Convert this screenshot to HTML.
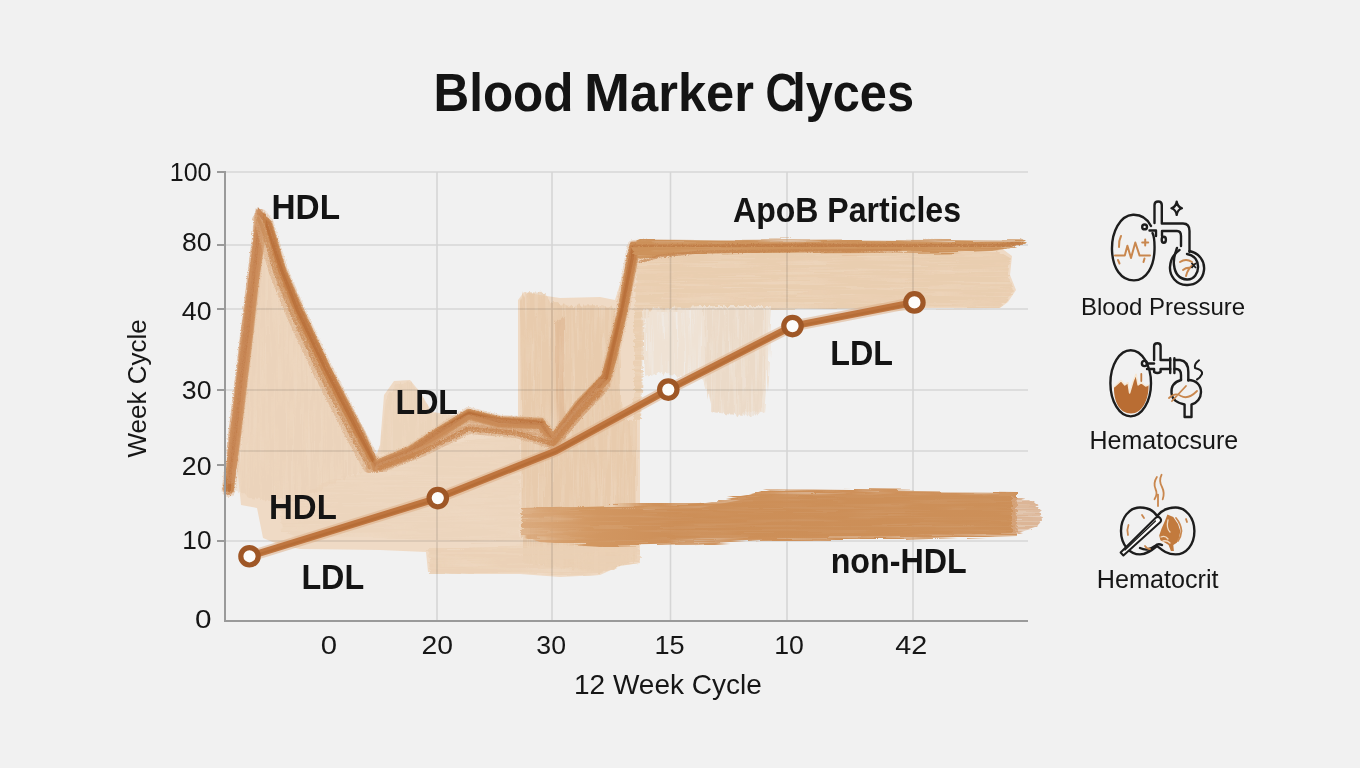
<!DOCTYPE html>
<html><head><meta charset="utf-8">
<style>
html,body{margin:0;padding:0;width:1360px;height:768px;overflow:hidden;background:#f1f1f1;}
svg{display:block;}
text{font-family:"Liberation Sans",sans-serif;}
</style></head>
<body>
<svg width="1360" height="768" viewBox="0 0 1360 768">
<defs>
  <filter id="vstreak" x="-3%" y="-3%" width="106%" height="106%">
    <feTurbulence type="fractalNoise" baseFrequency="0.35 0.015" numOctaves="2" seed="4" result="n"/>
    <feColorMatrix in="n" type="matrix" values="0 0 0 0 0  0 0 0 0 0  0 0 0 0 0  0 0 0 -1.6 1.75" result="a"/>
    <feComposite in="SourceGraphic" in2="a" operator="in" result="t"/>
    <feDisplacementMap in="t" in2="n" scale="7" xChannelSelector="R" yChannelSelector="G"/>
  </filter>
  <filter id="hstreak" x="-3%" y="-10%" width="106%" height="120%">
    <feTurbulence type="fractalNoise" baseFrequency="0.012 0.4" numOctaves="2" seed="7" result="n"/>
    <feColorMatrix in="n" type="matrix" values="0 0 0 0 0  0 0 0 0 0  0 0 0 0 0  0 0 0 -1.6 1.75" result="a"/>
    <feComposite in="SourceGraphic" in2="a" operator="in" result="t"/>
    <feDisplacementMap in="t" in2="n" scale="7" xChannelSelector="R" yChannelSelector="G"/>
  </filter>
  <filter id="chalk" x="-5%" y="-5%" width="110%" height="110%">
    <feTurbulence type="fractalNoise" baseFrequency="0.8" numOctaves="2" seed="9" result="n"/>
    <feColorMatrix in="n" type="matrix" values="0 0 0 0 0  0 0 0 0 0  0 0 0 0 0  0 0 0 -1.4 1.6" result="a"/>
    <feComposite in="SourceGraphic" in2="a" operator="in" result="t"/>
    <feDisplacementMap in="t" in2="n" scale="3" xChannelSelector="R" yChannelSelector="G"/>
  </filter>
  <linearGradient id="bandgrad" x1="520" y1="0" x2="1040" y2="0" gradientUnits="userSpaceOnUse">
    <stop offset="0" stop-color="#dbab7f"/><stop offset="0.12" stop-color="#d29862"/><stop offset="0.3" stop-color="#ce9059"/><stop offset="1" stop-color="#ce915b"/>
  </linearGradient>
  <linearGradient id="bandgrad2" x1="520" y1="0" x2="1040" y2="0" gradientUnits="userSpaceOnUse">
    <stop offset="0" stop-color="#dbab7f" stop-opacity="0.3"/><stop offset="0.15" stop-color="#d19661" stop-opacity="0.8"/><stop offset="0.3" stop-color="#cc8e57"/><stop offset="1" stop-color="#cc8f58"/>
  </linearGradient>
</defs>
<rect width="1360" height="768" fill="#f1f1f1"/>

<!-- title -->
<g font-size="53.5" font-weight="bold" fill="#141414">
  <text x="433.5" y="110.8" textLength="140" lengthAdjust="spacingAndGlyphs">Blood</text>
  <text x="584" y="110.8" textLength="46" lengthAdjust="spacingAndGlyphs">M</text>
  <text x="630" y="110.8" textLength="124" lengthAdjust="spacingAndGlyphs">arker</text>
  <text x="765.5" y="110.8" textLength="32" lengthAdjust="spacingAndGlyphs">C</text>
  <text x="792.2" y="110.8" textLength="121.8" lengthAdjust="spacingAndGlyphs">lyces</text>
</g>



<!-- FILLS -->
<g id="fills">
<!-- FILLS_START -->
<!-- base light wash -->
<path fill="#efdac5" d="M241 505 L237.5 470 L235 434 L241.5 380 L247.5 330 L253.5 280 L260 212 L276 258 L295 310 L322 368 L356 434 L374 462 L380 445 L384 395 L394 381 L410 380 L420 392 L432 412 L469 417 L500 424 L518 424 L518 300 L524 292 L540 295 L560 298 L600 297 L615 300 L630 252 L636 246 L1000 247 L1012 256 L1010 275 L1016 290 L1008 302 L1000 308 L780 308 L700 308 L660 310 L642 316 L640 420 L640 563 L620 566 L600 575 L560 577 L520 574 L470 574 L428 572 L426 552 L380 550 L300 549 L280 545 L263 538 L257 508 L241 505 Z"/>
<!-- HDL triangle darker wash -->
<path fill="#ead0b5" opacity="0.6" filter="url(#vstreak)" d="M236 490 L242 420 L252 330 L259 232 L266 240 L290 310 L320 372 L350 432 L368 470 L340 480 L300 500 L270 500 L250 498 Z"/>
<!-- lower band of wash -->
<path fill="#ead0b5" opacity="0.45" filter="url(#hstreak)" d="M280 505 L330 480 L372 470 L430 450 L470 440 L520 432 L520 540 L470 542 L428 540 L380 538 L300 538 L282 532 Z"/>
<!-- LDL bump wash -->
<path fill="#e9cfb3" opacity="0.5" filter="url(#vstreak)" d="M380 455 L386 398 L396 384 L410 382 L420 394 L432 414 L470 418 L515 426 L515 440 L470 430 L420 446 Z"/>
<!-- middle block -->
<path fill="#e6c7a6" opacity="0.75" filter="url(#vstreak)" d="M520 304 L524 292 L545 293 L550 302 L570 306 L600 305 L614 308 L618 320 L622 420 L636 420 L637 560 L620 566 L600 572 L570 568 L540 566 L522 562 Z"/>
<path fill="#dcb08a" opacity="0.5" filter="url(#vstreak)" d="M555 322 L563 318 L566 440 L557 442 Z"/>
<!-- apoB fill -->
<path fill="#e9ccad" opacity="0.85" filter="url(#hstreak)" d="M638 252 L1000 252 L1010 258 L1008 275 L1014 290 L1006 302 L998 308 L780 309 L700 309 L660 312 L645 318 L641 420 L634 420 L634 300 Z"/>
<!-- faint region below apoB -->
<path fill="#efe2d4" filter="url(#vstreak)" d="M642 310 L700 306 L772 306 L770 340 L768 380 L765 414 L752 410 L740 415 L712 412 L704 380 L680 376 L660 372 L646 376 L644 330 Z"/>
<path fill="#ead6c1" opacity="0.6" filter="url(#vstreak)" d="M704 308 L766 308 L765 380 L760 414 L740 416 L712 412 L706 380 Z"/>
<!-- lower part under band (lighter) -->
<path fill="#ebd1b6" opacity="0.9" filter="url(#hstreak)" d="M428 548 L640 545 L640 563 L620 566 L600 574 L560 576 L520 574 L470 574 L430 572 Z"/>
<!-- gridlines (multiply so they show through paint) -->
<g stroke="#e3e3e3" stroke-width="1.6" fill="none" style="mix-blend-mode:multiply">
  <path d="M225 172H1028M225 245H1028M225 309H1028M225 390H1028M225 451H1028M225 541H1028"/>
  <path d="M437 172V621M552 172V621M670.5 172V621M787 172V621M913 172V621"/>
</g>
<!-- non-HDL band -->
<path fill="url(#bandgrad)" filter="url(#hstreak)" d="M522 508 L640 504 L700 503 L745 496 L770 489 L1017 492 L1017 536 L900 540 L760 540 L700 544 L600 546 L540 542 L522 536 Z"/>
<path fill="url(#bandgrad2)" opacity="0.85" d="M530 512 L700 508 L770 494 L1015 496 L1015 533 L770 537 L600 541 L530 536 Z"/>
<path fill="#d7a780" opacity="0.8" filter="url(#hstreak)" d="M1012 496 L1030 500 L1040 508 L1042 520 L1036 528 L1020 533 L1012 533 Z"/>
<!-- FILLS_END -->
</g>



<!-- LINES -->
<g id="lines">
<!-- LINES_START -->
<g fill="none" stroke-linejoin="miter" stroke-miterlimit="3" stroke-linecap="round">
<path stroke="#dfb48d" stroke-width="14" stroke-linejoin="round" opacity="0.45" filter="url(#chalk)" d="M228.5 490.0 L231.0 470.0 L235.0 434.0 L241.5 380.0 L247.5 330.0 L253.5 280.0 L258.5 240.0 L261.0 216.0 L267.0 224.0 L281.0 270.0 L298.0 310.0 L325.5 368.0 L359.0 434.0 L375.5 466.0 L410.0 452.0 L440.0 432.0 L469.0 414.0 L500.0 422.0 L541.0 424.0 L553.0 440.0 L580.0 406.0 L606.0 378.0 L612.0 356.0 L623.0 308.0 L632.0 257.0 L634.0 247.0 L650.0 246.0"/>
<path stroke="#cb8a55" stroke-width="10" stroke-linejoin="round" opacity="0.9" filter="url(#chalk)" d="M228.5 490.0 L231.0 470.0 L235.0 434.0 L241.5 380.0 L247.5 330.0 L253.5 280.0 L258.5 240.0 L261.0 217.0 L267.0 224.0 L281.0 270.0 L298.0 310.0 L325.5 368.0 L359.0 434.0 L375.5 466.0 L410.0 452.0 L440.0 432.0 L469.0 414.0 L500.0 422.0 L541.0 424.0 L553.0 440.0 L580.0 406.0 L606.0 378.0 L612.0 356.0 L623.0 308.0 L632.0 257.0 L634.0 247.0 L650.0 246.0"/>
<path stroke="#bd763f" stroke-width="3.5" opacity="0.85" d="M225.9 489.8 L229.2 469.7 L232.5 433.9 L238.5 379.7 L245.2 330.2 L250.4 279.4 L255.4 240.2 L259.1 211.1 L270.1 223.9 L283.6 269.3 L299.7 308.2 L327.8 366.2 L360.7 432.5 L375.6 463.6 L408.7 450.3 L438.7 430.1 L468.6 411.8 L500.3 419.2 L542.6 422.4 L552.5 438.1 L577.8 403.9 L603.6 376.0 L610.0 355.3 L621.1 307.3 L630.3 257.1 L631.9 244.4 L650.5 243.5"/>
<path stroke="#c47f48" stroke-width="3.5" opacity="0.85" d="M231.7 490.1 L232.8 470.5 L237.9 433.9 L243.3 380.0 L250.7 330.7 L255.4 279.9 L260.3 239.6 L263.7 213.7 L264.7 224.7 L278.2 271.2 L295.1 311.3 L322.6 369.0 L356.3 434.8 L375.4 468.8 L410.9 454.8 L440.9 433.9 L470.0 416.7 L499.0 425.3 L539.7 426.0 L554.5 442.0 L581.6 406.9 L607.4 379.5 L614.0 356.8 L625.2 308.4 L635.2 257.4 L635.4 249.7 L649.6 247.9"/>
<path stroke="#b86f39" stroke-width="3" opacity="0.9" d="M229.2 490.5 L230.6 469.5 L235.4 434.7 L241.0 380.7 L248.1 330.2 L253.4 279.4 L257.8 240.7 L260.6 213.3 L266.6 224.5 L281.2 269.7 L297.5 310.4 L324.8 367.6 L359.1 434.6 L375.7 465.6 L410.7 451.5 L439.2 431.6 L468.9 413.3 L499.5 421.8 L541.1 423.4 L552.8 440.6 L580.8 406.3 L606.3 378.1 L611.4 355.3 L622.2 308.7 L632.3 257.7 L633.2 247.2 L650.0 246.4"/>
<path stroke="#c98a54" stroke-width="2.5" opacity="0.7" d="M232.7 491.4 L234.8 470.6 L239.8 435.2 L246.3 380.9 L252.4 331.2 L257.7 280.8 L263.6 241.1 L264.8 215.6 L263.3 225.6 L277.0 271.3 L294.0 312.0 L320.8 370.2 L355.8 436.7 L374.4 470.1 L412.5 456.1 L442.3 436.3 L469.1 418.8 L498.6 426.6 L539.5 427.8 L555.2 444.1 L583.6 409.6 L609.4 379.6 L616.1 357.3 L626.9 308.4 L637.1 258.1 L636.3 251.5 L650.0 250.8"/>
<path stroke="#c98a54" stroke-width="2.2" opacity="0.6" d="M223.6 489.3 L227.0 470.1 L231.1 433.3 L237.2 379.2 L242.4 329.5 L249.6 280.0 L254.4 240.2 L256.7 210.4 L271.2 222.2 L284.8 268.3 L302.3 308.1 L329.2 366.6 L363.8 431.9 L376.3 461.0 L408.5 447.3 L437.9 428.3 L468.0 410.0 L499.8 417.0 L542.4 419.0 L551.6 435.5 L576.0 402.4 L602.4 375.5 L607.8 355.2 L619.1 307.8 L627.9 255.7 L631.6 242.6 L648.9 241.5"/>
<path stroke="#d3a075" stroke-width="10" opacity="0.55" filter="url(#chalk)" d="M380.0 468.0 L422.0 452.0 L469.0 429.0 L516.0 433.0 L553.0 444.0 L580.0 412.0 L600.0 392.0"/>
<path stroke="#cf9463" stroke-width="13" opacity="0.55" stroke-linejoin="round" filter="url(#chalk)" d="M372.0 468.0 L410.0 454.0 L440.0 436.0 L469.0 421.0 L500.0 426.0 L541.0 429.0 L553.0 443.0 L580.0 410.0 L604.0 384.0"/>
<path stroke="#c7844e" stroke-width="5" opacity="0.8" filter="url(#chalk)" d="M380.0 468.0 L422.0 452.0 L469.0 429.0 L516.0 433.0 L553.0 444.0 L580.0 412.0 L600.0 392.0"/>
<path stroke="#d09567" stroke-width="12" opacity="0.6" stroke-linejoin="round" filter="url(#chalk)" d="M229.5 477.9 L231.5 461.9 L234.5 433.9 L241.0 379.9 L247.0 329.9 L253.0 279.9 L258.0 239.9 L260.5 215.0"/>
<path stroke="#d9aa80" stroke-width="9" opacity="0.6" filter="url(#chalk)" d="M256.7 219.1 L260.3 226.1 L273.4 272.2 L289.6 312.8 L316.7 371.1 L350.8 437.3 L367.9 468.4"/>
<path stroke="#c98b57" stroke-width="3.5" opacity="0.75" filter="url(#chalk)" d="M258.1 218.5 L261.8 225.7 L274.8 271.8 L291.0 312.2 L318.1 370.4 L352.1 436.6 L369.2 467.6"/>
<path fill="#cd925b" filter="url(#hstreak)" d="M630 244 L640 239.5 L700 240 L800 239.5 L950 240 L1000 240.5 L1021 239.5 L1025 243 L1012 248 L990 251 L950 252.5 L800 253.5 L700 254.5 L660 256 L642 260 L636 256 Z"/>
<path fill="#cd925b" opacity="0.8" d="M636 243 L700 242 L800 241.5 L950 242 L1000 242.5 L1020 241.5 L1022 243.5 L1000 248 L950 250.5 L800 251.5 L700 252.5 L640 255 Z"/>
<path stroke="#bd7843" stroke-width="4" opacity="0.75" filter="url(#chalk)" d="M634 246.5 L700 246.5 L800 245.5 L950 246 L1000 245.5 L1021 243"/>
<path stroke="#c5844f" stroke-width="3" opacity="0.7" filter="url(#chalk)" d="M640 262 L660 256 L700 252 L800 250.5 L900 250"/>
</g>
<path fill="none" stroke="#dcaa80" stroke-width="11" opacity="0.5" stroke-linejoin="round" stroke-linecap="round" d="M249.5 556.3 L437.8 498.1 L556.0 451.0 L668.3 389.6 L792.5 326.1 L914.4 302.4"/>
<path fill="none" stroke="#bf7640" stroke-width="7" stroke-linejoin="round" stroke-linecap="round" d="M249.5 556.3 L437.8 498.1 L556.0 451.0 L668.3 389.6 L792.5 326.1 L914.4 302.4"/>
<path fill="none" stroke="#b06830" stroke-width="2.5" opacity="0.6" stroke-linejoin="round" stroke-linecap="round" d="M249.7 557.1 L438.1 498.9 L556.3 451.7 L668.7 390.3 L792.8 326.9 L914.6 303.2"/>
<g fill="#fdfcfa" stroke="#9f5726" stroke-width="5.2">
  <circle cx="249.5" cy="556.3" r="8.7"/>
  <circle cx="437.8" cy="498.1" r="8.7"/>
  <circle cx="668.3" cy="389.6" r="8.7"/>
  <circle cx="792.5" cy="326.1" r="8.7"/>
  <circle cx="914.4" cy="302.4" r="8.7"/>
</g>
<!-- LINES_END -->
</g>

<!-- axes -->
<g stroke="#9a9a9a" stroke-width="2" fill="none">
  <path d="M225 171V621H1028"/>
  <path d="M217 172H225M217 245H225M217 309H225M217 390H225M217 465H225M217 541H225"/>
</g>

<!-- axis labels -->
<g font-size="25" fill="#161616" text-anchor="end">
  <text x="211.5" y="181">100</text>
  <text x="211.5" y="250.7" textLength="29.5" lengthAdjust="spacingAndGlyphs">80</text>
  <text x="211.5" y="320" textLength="29.7" lengthAdjust="spacingAndGlyphs">40</text>
  <text x="211.5" y="398.6" textLength="29.7" lengthAdjust="spacingAndGlyphs">30</text>
  <text x="211.5" y="474.7" textLength="29.7" lengthAdjust="spacingAndGlyphs">20</text>
  <text x="211.5" y="549" textLength="29.2" lengthAdjust="spacingAndGlyphs">10</text>
  <text x="211.5" y="628" textLength="16.5" lengthAdjust="spacingAndGlyphs">0</text>
</g>
<g font-size="25" fill="#161616" text-anchor="middle">
  <text x="329" y="654" textLength="16.3" lengthAdjust="spacingAndGlyphs">0</text>
  <text x="437.3" y="654" textLength="31.5" lengthAdjust="spacingAndGlyphs">20</text>
  <text x="551.2" y="654" textLength="29.7" lengthAdjust="spacingAndGlyphs">30</text>
  <text x="669.5" y="654" textLength="30.2" lengthAdjust="spacingAndGlyphs">15</text>
  <text x="789" y="654" textLength="29.7" lengthAdjust="spacingAndGlyphs">10</text>
  <text x="911.2" y="654" textLength="32" lengthAdjust="spacingAndGlyphs">42</text>
</g>
<text x="574" y="693.7" font-size="28" fill="#161616">12 Week Cycle</text>
<text transform="translate(145.5,457.5) rotate(-90)" x="0" y="0" font-size="26" fill="#161616">Week Cycle</text>

<!-- series labels -->
<g font-size="35" font-weight="bold" fill="#141414">
  <text x="271.5" y="218.9" textLength="68.5" lengthAdjust="spacingAndGlyphs">HDL</text>
  <text x="733" y="222.4" textLength="228" lengthAdjust="spacingAndGlyphs">ApoB Particles</text>
  <text x="395.5" y="414.1" textLength="62.5" lengthAdjust="spacingAndGlyphs">LDL</text>
  <text x="830.3" y="364.7" textLength="62.7" lengthAdjust="spacingAndGlyphs">LDL</text>
  <text x="269" y="518.5" textLength="67.8" lengthAdjust="spacingAndGlyphs">HDL</text>
  <text x="301.4" y="589.3" textLength="62.8" lengthAdjust="spacingAndGlyphs">LDL</text>
  <text x="830.7" y="572.6" textLength="136" lengthAdjust="spacingAndGlyphs">non-HDL</text>
</g>
<!-- right legend labels -->
<g font-size="24" fill="#161616">
  <text x="1081" y="315.3">Blood Pressure</text>
  <text x="1089.5" y="448.5" font-size="25">Hematocsure</text>
  <text x="1096.8" y="588" font-size="25.2">Hematocrit</text>
</g>

<!-- ICONS -->
<g id="icons">
<!-- ICONS_START -->
<!-- icon 1: blood pressure -->
<g fill="none" stroke="#1d1d1d" stroke-width="2.4" stroke-linecap="round" stroke-linejoin="round">
  <path d="M1151 226 C1147 218 1141 214.5 1133 214.8 C1120 215.5 1111.5 232 1112 250 C1112.5 268 1121 280.5 1134 280.4 C1147 280 1154 266 1154.5 250 C1154.8 240 1154 236 1152.5 233"/>
  <path d="M1154.5 223 V205 Q1154.5 201.5 1158.2 201.5 Q1161.8 201.5 1161.8 205 V223.5 H1183 Q1189.5 223.5 1189.5 231 V252"/>
  <path d="M1149.5 230.5 H1156 V236 M1162 236 V231 H1177 Q1181 231 1181 236 V246"/>
  <circle cx="1144.6" cy="226.9" r="2.4"/>
  <ellipse cx="1163.8" cy="239.8" rx="2.1" ry="3"/>
  <path d="M1189.5 251 C1199 253 1205 261 1204 270 C1203 280 1195 285.5 1186.5 285 C1176 284.5 1169.5 276 1170 267 C1170.5 258 1175 253 1179.5 250"/>
  <path d="M1177 248 C1175 254 1173 258 1174 265 C1175 274 1180 279 1187 279.5 C1194 279.8 1198.5 273 1198 266 C1197.5 259 1193 255 1187 254"/>
  <path stroke-width="2.2" d="M1176.7 201.5 Q1177.5 207 1182 208.3 Q1177.5 209.6 1176.7 215 Q1175.9 209.6 1171.4 208.3 Q1175.9 207 1176.7 201.5 Z"/>
</g>
<g fill="none" stroke="#c9874e" stroke-width="2" stroke-linecap="round" stroke-linejoin="round">
  <path d="M1115 255.6 H1124.8 L1127.4 245.8 L1131 258 L1135.3 242.5 L1139.6 255.6 H1150"/>
  <path d="M1145.2 239.5 V245.5 M1142.2 242.5 H1148.2"/>
  <path d="M1121 236 Q1118.5 241 1119 247"/>
  <path d="M1118 260 L1119.5 263.5 M1144.5 258.5 L1143.5 262"/>
  <path d="M1180 262 Q1186 258 1192 262 M1186 276 Q1188 268 1194 264 M1183 270 Q1187 267 1190 268"/>
</g>
<path d="M1191.5 263 L1196 268 M1196 263 L1191.5 268" stroke="#1d1d1d" stroke-width="1.8"/>

<!-- icon 2: hematocsure -->
<path fill="#b96d33" d="M1114 387 L1121 380.6 L1124.8 384.9 L1128 382.7 L1129.6 393 L1133.3 380.6 L1136 374.2 L1138.1 384.9 L1141.3 382.7 L1145.6 386 L1148.5 385 C1149 400 1142 413.5 1131 413.5 C1120 413.5 1113.5 402 1114 387 Z"/>
<path fill="none" stroke="#f6e7d3" stroke-width="1.5" stroke-linejoin="round" d="M1114 387 L1121 380.6 L1124.8 384.9 L1128 382.7 L1129.6 393 L1133.3 380.6 L1136 374.2 L1138.1 384.9 L1141.3 382.7 L1145.6 386 L1148.5 385"/>
<path fill="none" stroke="#c07a40" stroke-width="1.8" stroke-linecap="round" d="M1141.3 374 V381"/>
<g fill="none" stroke="#1d1d1d" stroke-width="2.4" stroke-linecap="round" stroke-linejoin="round">
  <ellipse cx="1130.7" cy="383.3" rx="20.3" ry="33.1"/>
  <path d="M1154.1 360 V346 Q1154.1 343.2 1157.35 343.2 Q1160.6 343.2 1160.6 346 V360 H1170.2 M1174.4 360 H1180 Q1188.3 361 1188.3 372 V380.5"/>
  <path d="M1147 369 H1154.1 V372 Q1157.35 374 1160.6 372 V369 H1170.2 M1174.4 369 H1176 Q1181 369 1181 375 V380"/>
  <path d="M1170.2 358.2 V373.1 M1174.4 358.2 V373.1"/>
  <circle cx="1144.5" cy="363.5" r="2.6"/>
  <path d="M1147.2 363.5 H1154"/>
  <path d="M1181 380 C1174 382 1171 387 1171.5 393 C1172 399 1177 403 1184.6 404.5 V417 H1191.5 V404.5 C1197 403 1201 398 1201 392 C1201 385 1196 380 1188.3 380"/>
  <path stroke-width="2" d="M1199 360.3 Q1194 364 1195 368 Q1203 370 1202 374 Q1200 378 1197 379.5"/>
</g>
<g fill="none" stroke="#c9874e" stroke-width="1.8" stroke-linecap="round">
  <path d="M1169 398 Q1175 392 1181 396 Q1188 400 1197 391 M1172 401 L1186 386"/>
</g>
<!-- icon 3: hematocrit -->
<g fill="none" stroke="#1d1d1d" stroke-width="2.4" stroke-linecap="round" stroke-linejoin="round">
  <path d="M1157 516 C1154 511 1148 507.5 1140 507.5 C1129 507.5 1121 518 1121 531 C1121 545 1130 554.4 1140 554.4 C1147 554.4 1152 550 1157 546 C1162 550 1167 554.4 1175.6 554.4 C1186 554.4 1194.4 545 1194.4 531 C1194.4 518 1186 507.5 1175.6 507.5 C1167 507.5 1161 511 1157 516"/>
  <path d="M1140 548 Q1148 552 1155 546 Q1158 543 1162 545"/>
</g>
<path fill="#c27a3d" d="M1167.4 514.5 L1165.1 520.4 L1161.6 528.6 L1159.2 535.6 L1160.4 540.3 L1165.1 542.7 L1168.6 545 L1170.9 550.9 L1173.9 550.9 L1173.3 545 L1176.8 542.7 L1179.1 538 L1180.3 531 L1178 523.9 L1173.3 516.9 Z"/>
<path fill="none" stroke="#f0dcc6" stroke-width="1.3" stroke-linecap="round" d="M1161 537 Q1165 535 1168 539 M1163 541 Q1167 540 1170 543 M1168 520 Q1166 528 1170 532"/>
<g stroke-linecap="round" stroke-linejoin="round">
  <path fill="#fdfcfa" stroke="#1d1d1d" stroke-width="2" d="M1120.6 552.5 L1155.8 517.7 A3.2 3.2 0 0 1 1160.2 522.3 L1123.4 555.5 Z"/>
  <path fill="none" stroke="#1d1d1d" stroke-width="1.2" d="M1125 550 L1155.5 521"/>
</g>
<g fill="none" stroke="#c9874e" stroke-width="1.8" stroke-linecap="round">
  <path d="M1156.9 477 Q1153 483 1155.5 489 Q1158 494 1154.5 499.3 M1161.6 474.7 Q1158.5 481 1162 487 Q1165 493 1162.7 499.3 M1158 494.6 V506"/>
  <path d="M1142 515 L1144 518 M1128.5 525 Q1126.5 530 1128 535 M1145 546 Q1147 549 1150 549 M1186 519 L1187 522 M1176 518 Q1181 524 1181.5 531 Q1181 537 1178 541"/>
</g>
<!-- ICONS_END -->
</g>
</svg>
</body></html>
